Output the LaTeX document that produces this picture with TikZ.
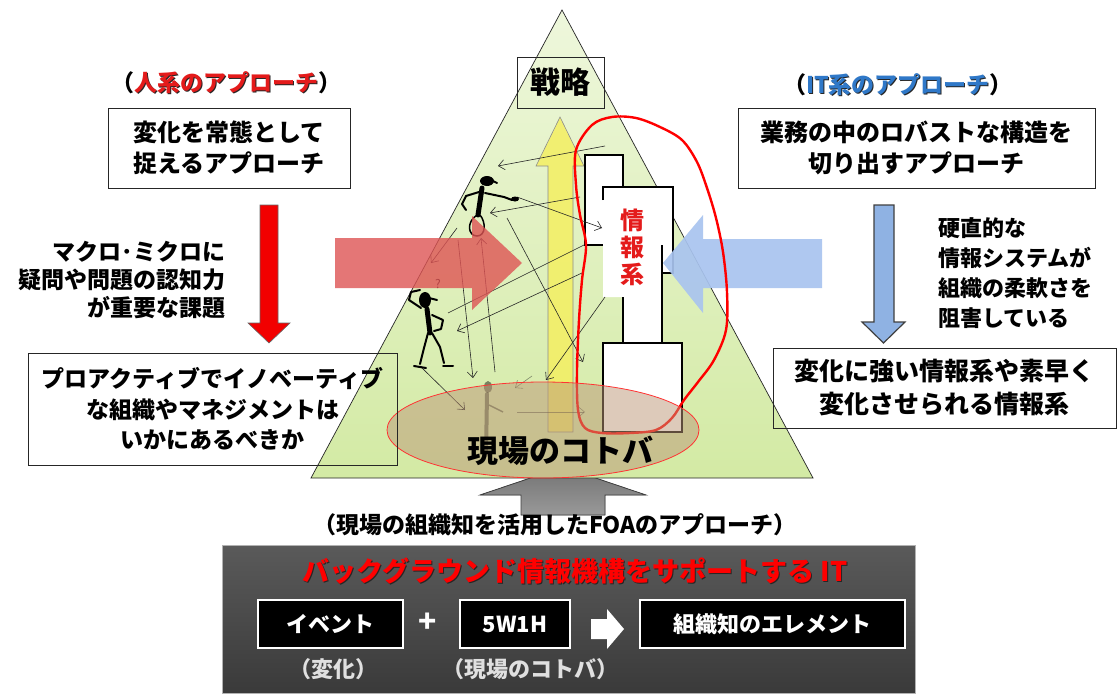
\documentclass[tikz,border=0pt]{standalone}
\usepackage{fontspec}
\setmainfont{Noto Sans CJK JP}
\usetikzlibrary{arrows.meta}
\definecolor{triTop}{HTML}{EEF7DC}
\definecolor{triBot}{HTML}{D3EAA4}
\definecolor{hired}{HTML}{E41B1B}
\definecolor{itblue}{HTML}{2F78C8}
\definecolor{arrowblue}{HTML}{8FB2E3}
\definecolor{paleblue}{HTML}{A9C4EF}
\definecolor{softred}{HTML}{DE5454}
\definecolor{sunyellow}{HTML}{F4EF62}
\definecolor{panelTop}{HTML}{5A5A5A}
\definecolor{panelBot}{HTML}{3A3A3A}
\definecolor{clay}{HTML}{BC9677}
\definecolor{capgray}{HTML}{E0E0E0}
% coloured text with a small dark drop shadow
\newcommand\shtxt[2]{\leavevmode\rlap{\raisebox{-1pt}{\hspace{1pt}\textcolor{black!85}{#2}}}\textcolor{#1}{#2}}
\begin{document}
\begin{tikzpicture}[x=1pt,y=-1pt,
  jtxt/.style={font=\bfseries\fontsize{24}{31}\selectfont},
  framebox/.style={draw=black!85, line width=0.8pt, inner sep=0pt, align=center, jtxt},
  flow/.style={draw=black!85, line width=0.6pt, -{Straight Barb[length=6pt,width=10pt]}},
  stick/.style={line width=2pt, line cap=round, line join=round},
  sysline/.style={draw=black, line width=2.6pt},
  panelbox/.style={draw=white, line width=1.2pt, fill=black, text=white, font=\bfseries\fontsize{22}{26}\selectfont, inner sep=0pt},
  captxt/.style={text=capgray, font=\bfseries\fontsize{22}{26}\selectfont},
]
\useasboundingbox (0,0) rectangle (1118,693);
\fill[white] (0,0) rectangle (1118,693);

% grey arrow rising from the panel into the pyramid
\filldraw[draw=black!75, line width=0.8pt, top color=black!55, bottom color=black!40]
  (521,515) -- (521,495) -- (480,495) -- (563,467) -- (646,495) -- (605,495) -- (605,515) -- cycle;

% pyramid
\coordinate (apex) at (562,10);
\coordinate (baseR) at (813,478);
\coordinate (baseL) at (311,478);
\path[top color=triTop, bottom color=triBot] (apex) -- (baseR) -- (baseL) -- cycle;
\draw[black!85, line width=0.7pt] (apex) -- (baseR) -- (baseL) -- cycle;

% strategy label
\node[draw=black!85, line width=0.8pt, minimum width=87, minimum height=51, inner sep=0pt,
      font=\bfseries\fontsize{30}{32}\selectfont] (senryaku) at (560.5,82.5) {戦略};

% yellow upward arrow
\filldraw[fill=sunyellow, fill opacity=0.85, draw=black!45, line width=0.6pt]
  (560,117) -- (584,166) -- (573,166) -- (573,432) -- (548,432) -- (548,166) -- (536,166) -- cycle;

% information system blocks
\filldraw[sysline, fill=white] (585,155) rectangle (623,245);
\fill[white] (603,187) -- (673,187) -- (673,273) -- (662,273) -- (662,343) -- (623,343) -- (623,297) -- (603,297) -- cycle;
\draw[sysline] (603,200) -- (603,187) -- (673,187) -- (673,273) -- (662,273) -- (662,343);
\draw[sysline] (623,297) -- (623,343);
\node[fill=white, minimum width=56, minimum height=99, inner sep=0pt, align=center,
      font=\bfseries\fontsize{24}{27}\selectfont, text=hired] (joho) at (632,247) {情\\報\\系};
\draw[sysline] (662,245) -- (662,273);
\filldraw[sysline, fill=white] (603,343) rectangle (682,432);

% communication arrows between people and the system
\draw[flow] (605,146) -- (498,166);
\draw[flow] (580,197) -- (490,213);
\draw[flow] (517,197) -- (602,228);
\draw[flow] (507,218) -- (583,362);
\draw[flow] (457,228) -- (431,263);
\draw[flow] (458,240) -- (473,378);
\draw[flow] (495,372) -- (481,238);
\draw[flow] (582,273) -- (457,331);
\draw[black!85, line width=0.6pt] (448,313) -- (584,245);
\draw[flow] (605,297) -- (546,380);
\draw[flow] (420,366) -- (465,410);
\draw[flow, opacity=0.5] (532,376) -- (515,388);
\draw[flow, opacity=0.5] (517,412) -- (585,412);

% person on the upper level
\fill (487,181) ellipse [x radius=7, y radius=5];
\draw[stick] (489,179) -- (497,183);
\draw[line width=5pt, line cap=round] (482,188) -- (478,215);
\draw[stick] (479,192) -- (466,196) -- (462,204) -- (466,210);
\draw[stick] (485,193) -- (504,197) -- (512,200);
\fill (515,199) ellipse [x radius=4, y radius=2.5];
\draw[line width=1.5pt] (477,215) .. controls (466,222) and (468,236) .. (477,236) .. controls (486,236) and (486,222) .. (480,215);

% puzzled person
\fill (425,300) ellipse [x radius=6, y radius=8];
\draw[stick] (429,298) -- (437,300);
\draw[stick] (421,308) -- (409,300) -- (411,292) -- (420,290);
\draw[line width=5pt, line cap=round] (427,309) -- (430,333);
\draw[stick] (432,315) -- (443,320) -- (441,329) -- (434,331);
\draw[stick] (428,333) -- (424,348) -- (420,364);
\draw[stick] (432,333) -- (440,347) -- (444,363);
\draw[stick] (414,366) -- (426,368);
\draw[stick] (443,366) -- (453,366);
\node[font=\fontsize{12}{12}\selectfont] (huh) at (438,284) {?};

% faint person on the ground level
\begin{scope}[opacity=0.45]
\fill (488,387) ellipse [x radius=4, y radius=6];
\draw[line width=4pt, line cap=round] (487,394) -- (486,455);
\draw[line width=1.5pt] (489,405) -- (503,412);
\end{scope}

% people approach (red) and IT approach (blue) pushing in
\fill[softred, fill opacity=0.8] (335,238) -- (472,238) -- (472,216) -- (522,263) -- (472,310) -- (472,288) -- (335,288) -- cycle;
\fill[paleblue, fill opacity=0.92] (822,239) -- (703,239) -- (703,215) -- (663,263) -- (703,313) -- (703,288) -- (822,288) -- cycle;

% hand-drawn loop around the information system
\draw[red, line width=2.4pt, line join=round] plot[smooth cycle, tension=0.55] coordinates {
  (576,150) (592,125) (612,117) (636,118) (660,127) (682,140) (697,162) (707,188)
  (716,218) (723,252) (727,292) (726,330) (714,360) (698,382) (684,400) (672,418)
  (656,430) (630,433) (602,433) (585,428) (578,410) (577,370) (579,320) (582,280)
  (586,245) (580,215) (576,185)};

% ground-level ellipse
\filldraw[fill=clay, fill opacity=0.5, draw=red!80, line width=0.8pt] (543,430) ellipse [x radius=156, y radius=48];
\node[font=\bfseries\fontsize{31}{33}\selectfont] (genba) at (560,451) {現場のコトバ};

% left column: people approach
\node[jtxt, font=\bfseries\fontsize{23}{26}\selectfont] (hitoTitle) at (226,83) {（\shtxt{hired}{人系のアプローチ}）};
\node[framebox, minimum width=242, minimum height=80] (hitoTop) at (229,148) {変化を常態として\\捉えるアプローチ};
\filldraw[fill=red!95!black, draw=black!60, line width=0.6pt]
  (260,205) -- (278,205) -- (278,323) -- (290,323) -- (269,343) -- (248,323) -- (260,323) -- cycle;
\node[anchor=east, align=right, font=\bfseries\fontsize{23}{28}\selectfont] (hitoNote) at (229,280)
  {マクロ･ミクロに\\疑問や問題の認知力\\が重要な課題};
\node[framebox, minimum width=369, minimum height=112, font=\bfseries\fontsize{23}{30.5}\selectfont] (hitoBottom) at (212.5,409)
  {プロアクティブでイノベーティブ\\な組織やマネジメントは\\いかにあるべきか};

% right column: IT approach
\node[jtxt, font=\bfseries\fontsize{23}{26}\selectfont] (itTitle) at (898,85) {（\shtxt{itblue}{IT系のアプローチ}）};
\node[framebox, minimum width=357, minimum height=80] (itTop) at (916.5,148) {業務の中のロバストな構造を\\切り出すアプローチ};
\filldraw[fill=arrowblue, draw=black!75, line width=1.2pt]
  (874,205) -- (894,205) -- (894,322) -- (905,322) -- (883.5,343) -- (862,322) -- (874,322) -- cycle;
\node[anchor=west, align=left, font=\bfseries\fontsize{22}{30}\selectfont] (itNote) at (935,273)
  {硬直的な\\情報システムが\\組織の柔軟さを\\阻害している};
\node[framebox, minimum width=343, minimum height=80, font=\bfseries\fontsize{25}{33}\selectfont] (itBottom) at (944.5,388)
  {変化に強い情報系や素早く\\変化させられる情報系};

% caption under the pyramid
\node[font=\bfseries\fontsize{23}{26}\selectfont] (foa) at (555,525) {（現場の組織知を活用したFOAのアプローチ）};

% background IT panel
\filldraw[draw=black!30, line width=1pt, top color=panelTop, bottom color=panelBot] (222,545) rectangle (915,693);
\node[font=\bfseries\fontsize{27}{30}\selectfont] (panelTitle) at (575,572) {\shtxt{red}{バックグラウンド情報機構をサポートする IT}};
\node[panelbox, minimum width=145, minimum height=48] (event) at (330.5,624) {イベント};
\node[text=white, font=\bfseries\fontsize{30}{30}\selectfont] (plus) at (428,623) {+};
\node[panelbox, minimum width=110, minimum height=48] (wh) at (515,624) {5W1H};
\node[panelbox, minimum width=265, minimum height=48] (element) at (772.5,624) {組織知のエレメント};
\fill[white] (591,619) -- (607,619) -- (607,609) -- (624,629) -- (607,649) -- (607,639) -- (591,639) -- cycle;
\node[captxt] (henka) at (333,669) {（変化）};
\node[captxt] (kotoba) at (530,669) {（現場のコトバ）};
\end{tikzpicture}
\end{document}
